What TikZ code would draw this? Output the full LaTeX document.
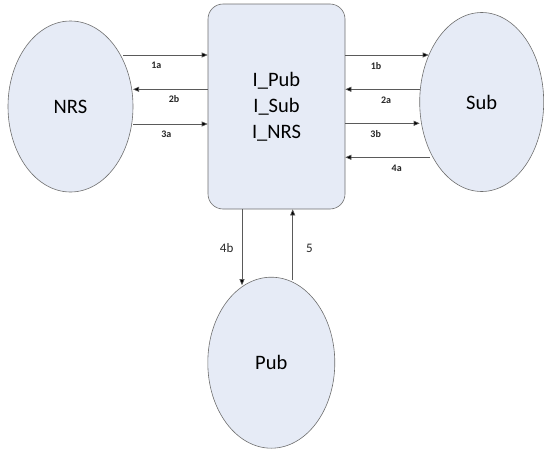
\documentclass[tikz,border=0pt]{standalone}
\usepackage{fontspec}
\setmainfont{Carlito}
\usetikzlibrary{shapes.geometric,arrows.meta,calc}
\definecolor{fillblue}{RGB}{230,235,246}
\definecolor{edgegray}{RGB}{110,110,110}
\definecolor{linegray}{RGB}{90,90,90}
\tikzset{
  party/.style={ellipse, draw=edgegray, line width=0.6pt, fill=fillblue, inner sep=0pt, font=\fontsize{20.5}{24}\selectfont},
  hub/.style={rectangle, rounded corners=15pt, draw=edgegray, line width=0.6pt, fill=fillblue, inner sep=0pt, align=center, font=\fontsize{20.5}{26}\selectfont},
  arr/.style={draw=linegray, line width=0.6pt, -{Triangle[length=6pt,width=5pt,fill=black]}},
  slab/.style={font=\fontsize{10}{12}\selectfont\bfseries, text=black!85},
  blab/.style={font=\fontsize{13}{15}\selectfont, text=black!85}
}
\begin{document}
\begin{tikzpicture}[x=1pt,y=-1pt]
\useasboundingbox (0,0) rectangle (544,450);
\node[party, minimum width=125pt, minimum height=171pt] (NRS) at (70.5,106.5) {NRS};
\node[party, minimum width=124pt, minimum height=179pt] (Sub) at (481.7,102) {Sub};
\node[party, minimum width=127pt, minimum height=171pt] (Pub) at (271.3,362.7) {Pub};
\node[hub, minimum width=137pt, minimum height=205pt] (box) at (276.5,106.5) {I\_Pub\\I\_Sub\\I\_NRS};
% left side
\draw[arr] ($(NRS.center)+(52.5,-51.5)$) -- (box.west |- 0,55);
\draw[arr] (box.west |- 0,89.3) -- ($(NRS.center)+(62.5,-17.2)$);
\draw[arr] ($(NRS.center)+(62.5,17.5)$) -- (box.west |- 0,124);
% right side
\draw[arr] (box.east |- 0,55) -- ($(Sub.center)+(-53,-47)$);
\draw[arr] ($(Sub.center)+(-61.5,-12.7)$) -- (box.east |- 0,89.3);
\draw[arr] (box.east |- 0,123.3) -- ($(Sub.center)+(-62,21.3)$);
\draw[arr] ($(Sub.center)+(-51.5,55.3)$) -- (box.east |- 0,157.3);
% bottom
\draw[arr] (box.south -| 242,0) -- ($(Pub.center)+(-29.3,-77.5)$);
\draw[arr] ($(Pub.center)+(21.4,-82.5)$) -- (box.south -| 292.7,0);
% labels
\node[slab] (l1a) at (156.3,65.7) {1a};
\node[slab] (l2b) at (174,99.3) {2b};
\node[slab] (l3a) at (166.3,134.3) {3a};
\node[slab] (l1b) at (376,65.7) {1b};
\node[slab] (l2a) at (386,100) {2a};
\node[slab] (l3b) at (375.7,134.3) {3b};
\node[slab] (l4a) at (396.7,168.3) {4a};
\node[blab] (l4b) at (226.7,248.3) {4b};
\node[blab] (l5) at (309.3,248.3) {5};
\end{tikzpicture}
\end{document}
